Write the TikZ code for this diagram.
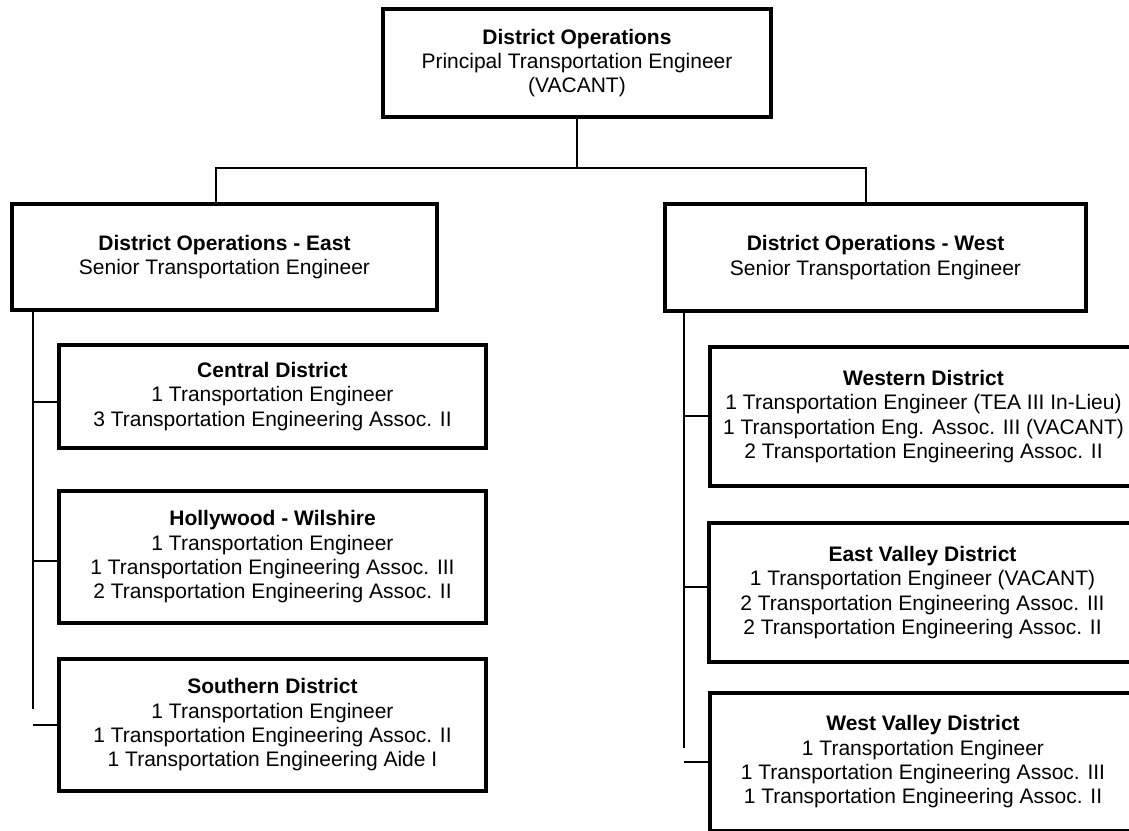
\documentclass[tikz,border=0pt]{standalone}
\usepackage{fontspec}
\setmainfont{Liberation Sans}
\begin{document}
\begin{tikzpicture}[x=1pt,y=1pt,
  orgbox/.style={draw, line width=3.5pt, align=center, inner sep=0pt, outer sep=0pt,
    font=\fontsize{21}{24.3}\selectfont},
  link/.style={line width=2pt}]
\useasboundingbox (0,0) rectangle (1129,830);
\clip (0,0) rectangle (1129,830);
% boxes
\node[orgbox, minimum width=388pt, minimum height=108pt] (top) at (577,767)
  {\textbf{District Operations}\\Principal Transportation Engineer\\(VACANT)};
\node[orgbox, minimum width=425pt, minimum height=106pt] (east) at (224.5,573)
  {\textbf{District Operations - East}\\Senior Transportation Engineer};
\node[orgbox, minimum width=421pt, minimum height=107pt] (west) at (875.5,572.5)
  {\textbf{District Operations - West}\\Senior Transportation Engineer};
\node[orgbox, minimum width=427pt, minimum height=103pt] (central) at (272.5,433.5)
  {\textbf{Central District}\\1 Transportation Engineer\\3 Transportation Engineering Assoc. II};
\node[orgbox, minimum width=427pt, minimum height=132pt] (holly) at (272.5,273)
  {\textbf{Hollywood - Wilshire}\\1 Transportation Engineer\\1 Transportation Engineering Assoc. III\\2 Transportation Engineering Assoc. II};
\node[orgbox, minimum width=427pt, minimum height=132pt] (south) at (272.5,105)
  {\textbf{Southern District}\\1 Transportation Engineer\\1 Transportation Engineering Assoc. II\\1 Transportation Engineering Aide I};
\node[orgbox, minimum width=427pt, minimum height=139pt] (western) at (923.5,413.5)
  {\textbf{Western District}\\1 Transportation Engineer (TEA III In-Lieu)\\1 Transportation Eng. Assoc. III (VACANT)\\2 Transportation Engineering Assoc. II};
\node[orgbox, minimum width=427pt, minimum height=139pt] (eastvalley) at (922.5,237.5)
  {\textbf{East Valley District}\\1 Transportation Engineer (VACANT)\\2 Transportation Engineering Assoc. III\\2 Transportation Engineering Assoc. II};
\node[orgbox, minimum width=426pt, minimum height=138pt] (westvalley) at (923,68)
  {\textbf{West Valley District}\\1 Transportation Engineer\\1 Transportation Engineering Assoc. III\\1 Transportation Engineering Assoc. II};
% connectors
\coordinate (bus) at (577,662);
\coordinate (espine) at (33,121);
\coordinate (wspine) at (684,82);
\draw[link] (top.south) -- (bus);
\draw[link] ([xshift=-8.5pt]east.north) |- (bus) -| ([xshift=-9.5pt]west.north);
\draw[link] (espine |- east.south) -- (espine);
\draw[link] ([yshift=-5.5pt]central.west) -- ([yshift=-5.5pt]central.west -| espine);
\draw[link] ([yshift=-4pt]holly.west) -- ([yshift=-4pt]holly.west -| espine);
\draw[link] (south.west) -- (south.west -| espine);
\draw[link] (wspine |- west.south) -- (wspine);
\draw[link] (western.west) -- (western.west -| wspine);
\draw[link] ([yshift=5.5pt]eastvalley.west) -- ([yshift=5.5pt]eastvalley.west -| wspine);
\draw[link] (westvalley.west) -- (westvalley.west -| wspine);
\end{tikzpicture}
\end{document}
